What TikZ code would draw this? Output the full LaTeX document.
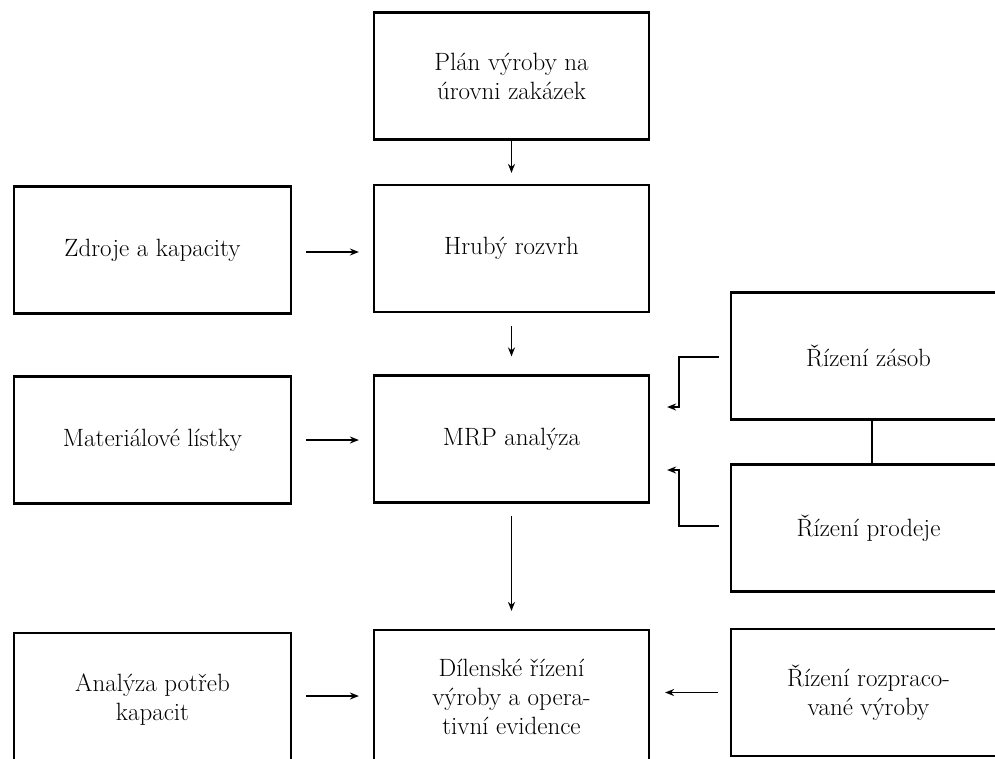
\documentclass[tikz,border=0pt]{standalone}
\usetikzlibrary{arrows.meta,calc}
\begin{document}
\begin{tikzpicture}[x=1pt,y=-1pt,
  box/.style={draw, line width=2.2pt, minimum width=275pt, minimum height=127pt,
    inner sep=0pt, align=center, font=\fontsize{25}{29}\selectfont},
  conn/.style={line width=1.6pt, -{Stealth[length=9pt,width=7pt]}},
  plain/.style={line width=1.6pt}]
\useasboundingbox (0,0) rectangle (995,758);
\clip (0,0) rectangle (995,758);
% column 1
\node[box, minimum width=277pt] (zdroje) at (152.5,250) {Zdroje a kapacity};
\node[box, minimum width=277pt] (mat) at (152.5,440) {Materiálové lístky};
\node[box, minimum width=277pt, minimum height=134pt] (anal) at (152.5,700) {Analýza potřeb\\kapacit};
% column 2
\node[box] (plan) at (511.5,76) {Plán výroby na\\úrovni zakázek};
\node[box] (hruby) at (511.5,248.5) {Hrubý rozvrh};
\node[box] (mrp) at (511.5,439) {MRP analýza};
\node[box, minimum height=134pt] (dil) at (511.5,697) {Dílenské řízení\\výroby a opera-\\tivní evidence};
% column 3
\node[box] (zas) at (868.5,356) {Řízení zásob};
\node[box] (prod) at (868.5,528) {Řízení prodeje};
\node[box] (roz) at (868.5,692.5) {Řízení rozpraco-\\vané výroby};
% connectors
\draw[conn, shorten >=11pt] (plan.south) -- (hruby.north);
\draw[conn, shorten <=14pt, shorten >=14pt] (zdroje.east |- 0,252) -- (hruby.west |- 0,252);
\draw[conn, shorten <=13pt, shorten >=18pt] (hruby.south) -- (mrp.north);
\draw[conn, shorten <=14pt, shorten >=14pt] (mat.east) -- (mrp.west |- mat.east);
\draw[conn, shorten <=12pt, shorten >=18pt] (mrp.south) -- (dil.north);
\draw[conn, shorten <=14pt, shorten >=14pt] (anal.east |- 0,696) -- (dil.west |- 0,696);
\draw[conn, shorten <=12pt, shorten >=15pt] (roz.west) -- (dil.east |- roz.west);
\draw[plain] (zas.south -| 872,0) -- (prod.north -| 872,0);
\coordinate (zk) at (679,357);
\coordinate (pk) at (679,526);
\draw[conn, shorten >=17pt] ($(zas.west)+(-11,1)$) -- (zk) |- ($(mrp.east)+(0,-32)$);
\draw[conn, shorten >=17pt] ($(prod.west)+(-11,-2)$) -- (pk) |- ($(mrp.east)+(0,31)$);
\end{tikzpicture}
\end{document}
